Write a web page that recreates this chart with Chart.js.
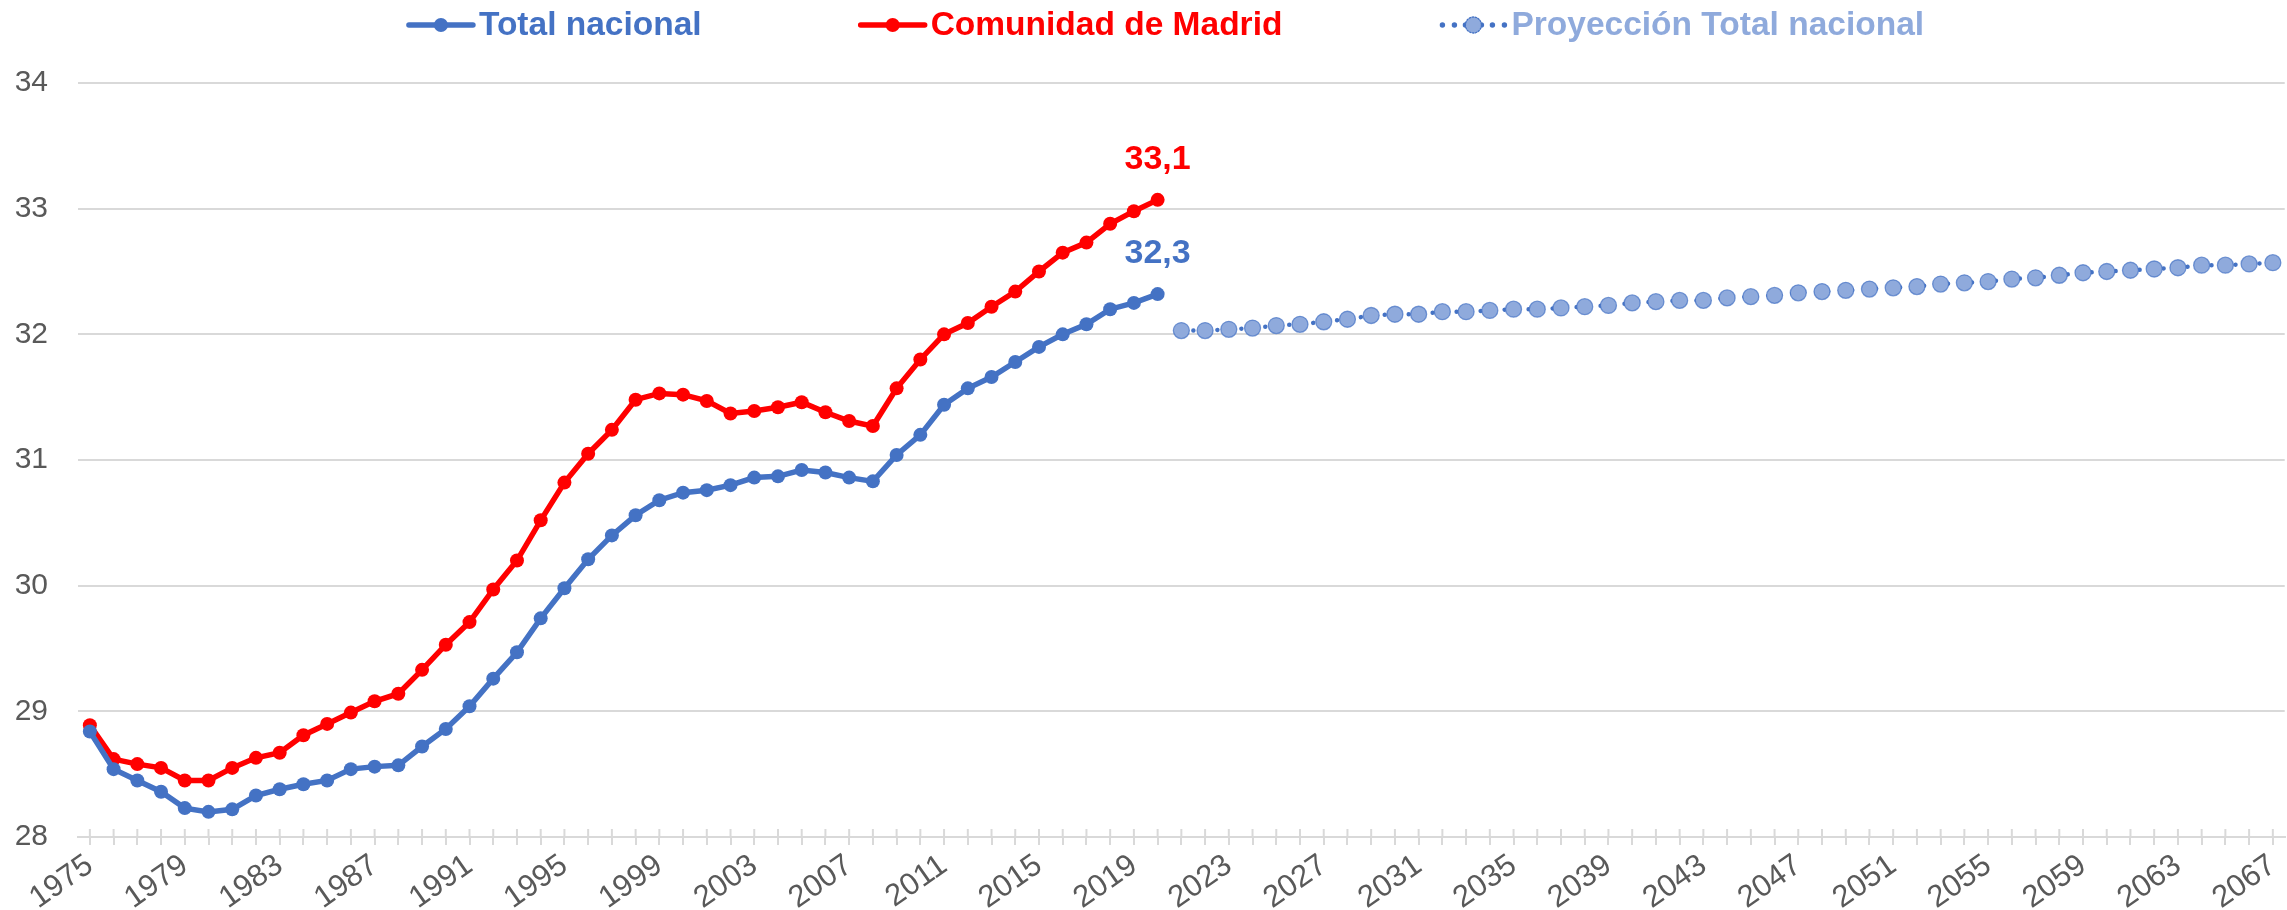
<!DOCTYPE html>
<html>
<head>
<meta charset="utf-8">
<script src="https://cdn.jsdelivr.net/npm/chart.js@4.4.1/dist/chart.umd.min.js"></script>
<style>
  html, body { margin: 0; padding: 0; background: #fff; overflow: hidden; }
  /* the original picture is cropped a few pixels inside the right edge of the plot */
  #wrap { width: 2294px; height: 910px; position: relative; }
</style>
</head>
<body>
<div id="wrap"><canvas id="myChart"></canvas></div>
<script>
// categories (one per year)
const years = [
  1975, 1976, 1977, 1978, 1979, 1980, 1981, 1982, 1983, 1984,
  1985, 1986, 1987, 1988, 1989, 1990, 1991, 1992, 1993, 1994,
  1995, 1996, 1997, 1998, 1999, 2000, 2001, 2002, 2003, 2004,
  2005, 2006, 2007, 2008, 2009, 2010, 2011, 2012, 2013, 2014,
  2015, 2016, 2017, 2018, 2019, 2020, 2021, 2022, 2023, 2024,
  2025, 2026, 2027, 2028, 2029, 2030, 2031, 2032, 2033, 2034,
  2035, 2036, 2037, 2038, 2039, 2040, 2041, 2042, 2043, 2044,
  2045, 2046, 2047, 2048, 2049, 2050, 2051, 2052, 2053, 2054,
  2055, 2056, 2057, 2058, 2059, 2060, 2061, 2062, 2063, 2064,
  2065, 2066, 2067
];

// years that get a label on the x axis
const tickYears = [
  1975, 1979, 1983, 1987, 1991, 1995, 1999, 2003, 2007, 2011, 2015, 2019,
  2023, 2027, 2031, 2035, 2039, 2043, 2047, 2051, 2055, 2059, 2063, 2067
];

// Total nacional, 1975 - 2020
const nacional = [
  28.84, 28.54, 28.45, 28.36, 28.23, 28.20, 28.22, 28.33, 28.38, 28.42,
  28.45, 28.54, 28.56, 28.57, 28.72, 28.86, 29.04, 29.26, 29.47, 29.74,
  29.98, 30.21, 30.40, 30.56, 30.68, 30.74, 30.76, 30.80, 30.86, 30.87,
  30.92, 30.90, 30.86, 30.83, 31.04, 31.20, 31.44, 31.57, 31.66, 31.78,
  31.90, 32.00, 32.08, 32.20, 32.25, 32.32
];

// Comunidad de Madrid, 1975 - 2020
const madrid = [
  28.89, 28.62, 28.58, 28.55, 28.45, 28.45, 28.55, 28.63, 28.67, 28.81,
  28.90, 28.99, 29.08, 29.14, 29.33, 29.53, 29.71, 29.97, 30.20, 30.52,
  30.82, 31.05, 31.24, 31.48, 31.53, 31.52, 31.47, 31.37, 31.39, 31.42,
  31.46, 31.38, 31.31, 31.27, 31.57, 31.80, 32.00, 32.09, 32.22, 32.34,
  32.50, 32.65, 32.73, 32.88, 32.98, 33.07
];

// Proyeccion Total nacional, 2021 - 2067
const proyStart = 2021;
const proyeccion = [
  32.03, 32.03, 32.04, 32.05, 32.07, 32.08, 32.10, 32.12, 32.15, 32.16,
  32.16, 32.18, 32.18, 32.19, 32.20, 32.20, 32.21, 32.22, 32.23, 32.25,
  32.26, 32.27, 32.27, 32.29, 32.30, 32.31, 32.33, 32.34, 32.35, 32.36,
  32.37, 32.38, 32.40, 32.41, 32.42, 32.44, 32.45, 32.47, 32.49, 32.50,
  32.51, 32.52, 32.53, 32.55, 32.55, 32.56, 32.57
];

const BLUE = '#4472C4';
const RED = '#FF0000';
const LIGHT = '#8FAADC';
const GRID = '#D9D9D9';
const AXIS_TXT = '#595959';
const FONT = '"Liberation Sans", Arial, sans-serif';

const nacionalData = years.map((y, i) => i < nacional.length ? nacional[i] : null);
const madridData = years.map((y, i) => i < madrid.length ? madrid[i] : null);
const proyData = years.map(y => y >= proyStart ? proyeccion[y - proyStart] : null);

// legend drawn on top of the canvas, excel style
const topLegend = {
  id: 'topLegend',
  afterDraw(chart) {
    const ctx = chart.ctx;
    const ds = chart.data.datasets;
    const markW = 70, markGap = 3, itemGap = 156, cy = 25;
    ctx.save();
    ctx.font = 'bold 33.5px ' + FONT;
    const widths = ds.map(d => ctx.measureText(d.label).width);
    let total = 0;
    widths.forEach((w, i) => { total += markW + markGap + w + (i ? itemGap : 0); });
    let x = 1165 - total / 2;
    ds.forEach((d, i) => {
      if (d.legendKind === 'dotted') {
        ctx.fillStyle = BLUE;
        [4, 16, 27, 43, 54, 66].forEach(dx => {
          ctx.beginPath(); ctx.arc(x + dx, cy, 2.7, 0, Math.PI * 2); ctx.fill();
        });
        ctx.beginPath(); ctx.arc(x + markW / 2, cy, 8, 0, Math.PI * 2);
        ctx.fillStyle = LIGHT; ctx.fill();
        ctx.setLineDash([1.5, 1.5]); ctx.lineWidth = 1.3; ctx.strokeStyle = BLUE; ctx.stroke();
        ctx.setLineDash([]);
      } else {
        ctx.strokeStyle = d.borderColor; ctx.lineWidth = 5.5; ctx.lineCap = 'round';
        ctx.beginPath(); ctx.moveTo(x + 3, cy); ctx.lineTo(x + markW - 3, cy); ctx.stroke();
        ctx.fillStyle = d.borderColor;
        ctx.beginPath(); ctx.arc(x + markW / 2, cy, 7, 0, Math.PI * 2); ctx.fill();
      }
      x += markW + markGap;
      ctx.fillStyle = d.legendColor;
      ctx.textAlign = 'left'; ctx.textBaseline = 'middle';
      ctx.fillText(d.label, x, cy + 1);
      x += widths[i] + itemGap;
    });
    ctx.restore();
  }
};

// value label on the last real point of each series
const endLabels = {
  id: 'endLabels',
  afterDatasetsDraw(chart) {
    const ctx = chart.ctx;
    ctx.save();
    ctx.font = 'bold 34px ' + FONT;
    ctx.textAlign = 'center'; ctx.textBaseline = 'middle';
    [0, 1].forEach(di => {
      const d = chart.data.datasets[di];
      let last = -1;
      d.data.forEach((v, i) => { if (v !== null) last = i; });
      const pt = chart.getDatasetMeta(di).data[last];
      ctx.fillStyle = d.borderColor;
      ctx.fillText(d.data[last].toFixed(1).replace('.', ','), pt.x, pt.y - 40);
    });
    ctx.restore();
  }
};

// excel draws the category tick marks across the axis line, add the upper half
const crossTicks = {
  id: 'crossTicks',
  beforeDatasetsDraw(chart) {
    const sx = chart.scales.x;
    const ctx = chart.ctx;
    ctx.save();
    ctx.strokeStyle = GRID; ctx.lineWidth = 2;
    sx.ticks.forEach((t, i) => {
      const px = sx.getPixelForTick(i);
      ctx.beginPath(); ctx.moveTo(px, sx.top - 8); ctx.lineTo(px, sx.top); ctx.stroke();
    });
    ctx.restore();
  }
};

const data = {
  labels: years,
  datasets: [{
    label: 'Total nacional',
    data: nacionalData,
    borderColor: BLUE,
    backgroundColor: BLUE,
    legendColor: BLUE,
    pointBackgroundColor: BLUE,
    borderWidth: 5.5,
    pointRadius: 7,
    pointBorderWidth: 0,
    tension: 0
  }, {
    label: 'Comunidad de Madrid',
    data: madridData,
    borderColor: RED,
    backgroundColor: RED,
    legendColor: RED,
    pointBackgroundColor: RED,
    borderWidth: 5.5,
    pointRadius: 7,
    pointBorderWidth: 0,
    tension: 0
  }, {
    label: 'Proyección Total nacional',
    data: proyData,
    legendKind: 'dotted',
    legendColor: LIGHT,
    borderColor: BLUE,
    backgroundColor: LIGHT,
    borderWidth: 4.5,
    borderDash: [0.01, 12],
    borderCapStyle: 'round',
    pointRadius: 8,
    pointBackgroundColor: LIGHT,
    pointBorderColor: 'rgba(68,114,196,0.7)',
    pointBorderWidth: 1.3,
    tension: 0
  }]
};

const config = {
  type: 'line',
  data: data,
  options: {
    responsive: true,
    maintainAspectRatio: false,
    animation: false,
    spanGaps: false,
    layout: { padding: { top: 83, left: 14, right: 0, bottom: 0 } },
    plugins: {
      legend: { display: false },
      tooltip: { enabled: false }
    },
    scales: {
      x: {
        type: 'category',
        offset: true,
        grid: {
          offset: false,
          drawOnChartArea: false,
          color: GRID,
          lineWidth: 2,
          tickLength: 8
        },
        border: { color: GRID, width: 2 },
        ticks: {
          autoSkip: false,
          minRotation: 35,
          maxRotation: 35,
          padding: 2,
          color: AXIS_TXT,
          font: { family: FONT, size: 31 },
          callback: function (val) {
            const y = Number(this.getLabelForValue(val));
            return tickYears.includes(y) ? String(y) : '';
          }
        },
        afterFit: function (scale) {
          scale.paddingLeft = 0;
          scale.paddingRight = 0;
          scale.height = 73;
        }
      },
      y: {
        min: 28,
        max: 34,
        ticks: {
          stepSize: 1,
          padding: 30,
          color: AXIS_TXT,
          font: { family: FONT, size: 30 }
        },
        grid: { color: GRID, lineWidth: 2, drawTicks: false },
        border: { display: false },
        afterFit: function (scale) {
          scale.width = 64;
        }
      }
    }
  },
  plugins: [crossTicks, endLabels, topLegend]
};

const myChart = new Chart(document.getElementById('myChart'), config);
</script>
</body>
</html>
